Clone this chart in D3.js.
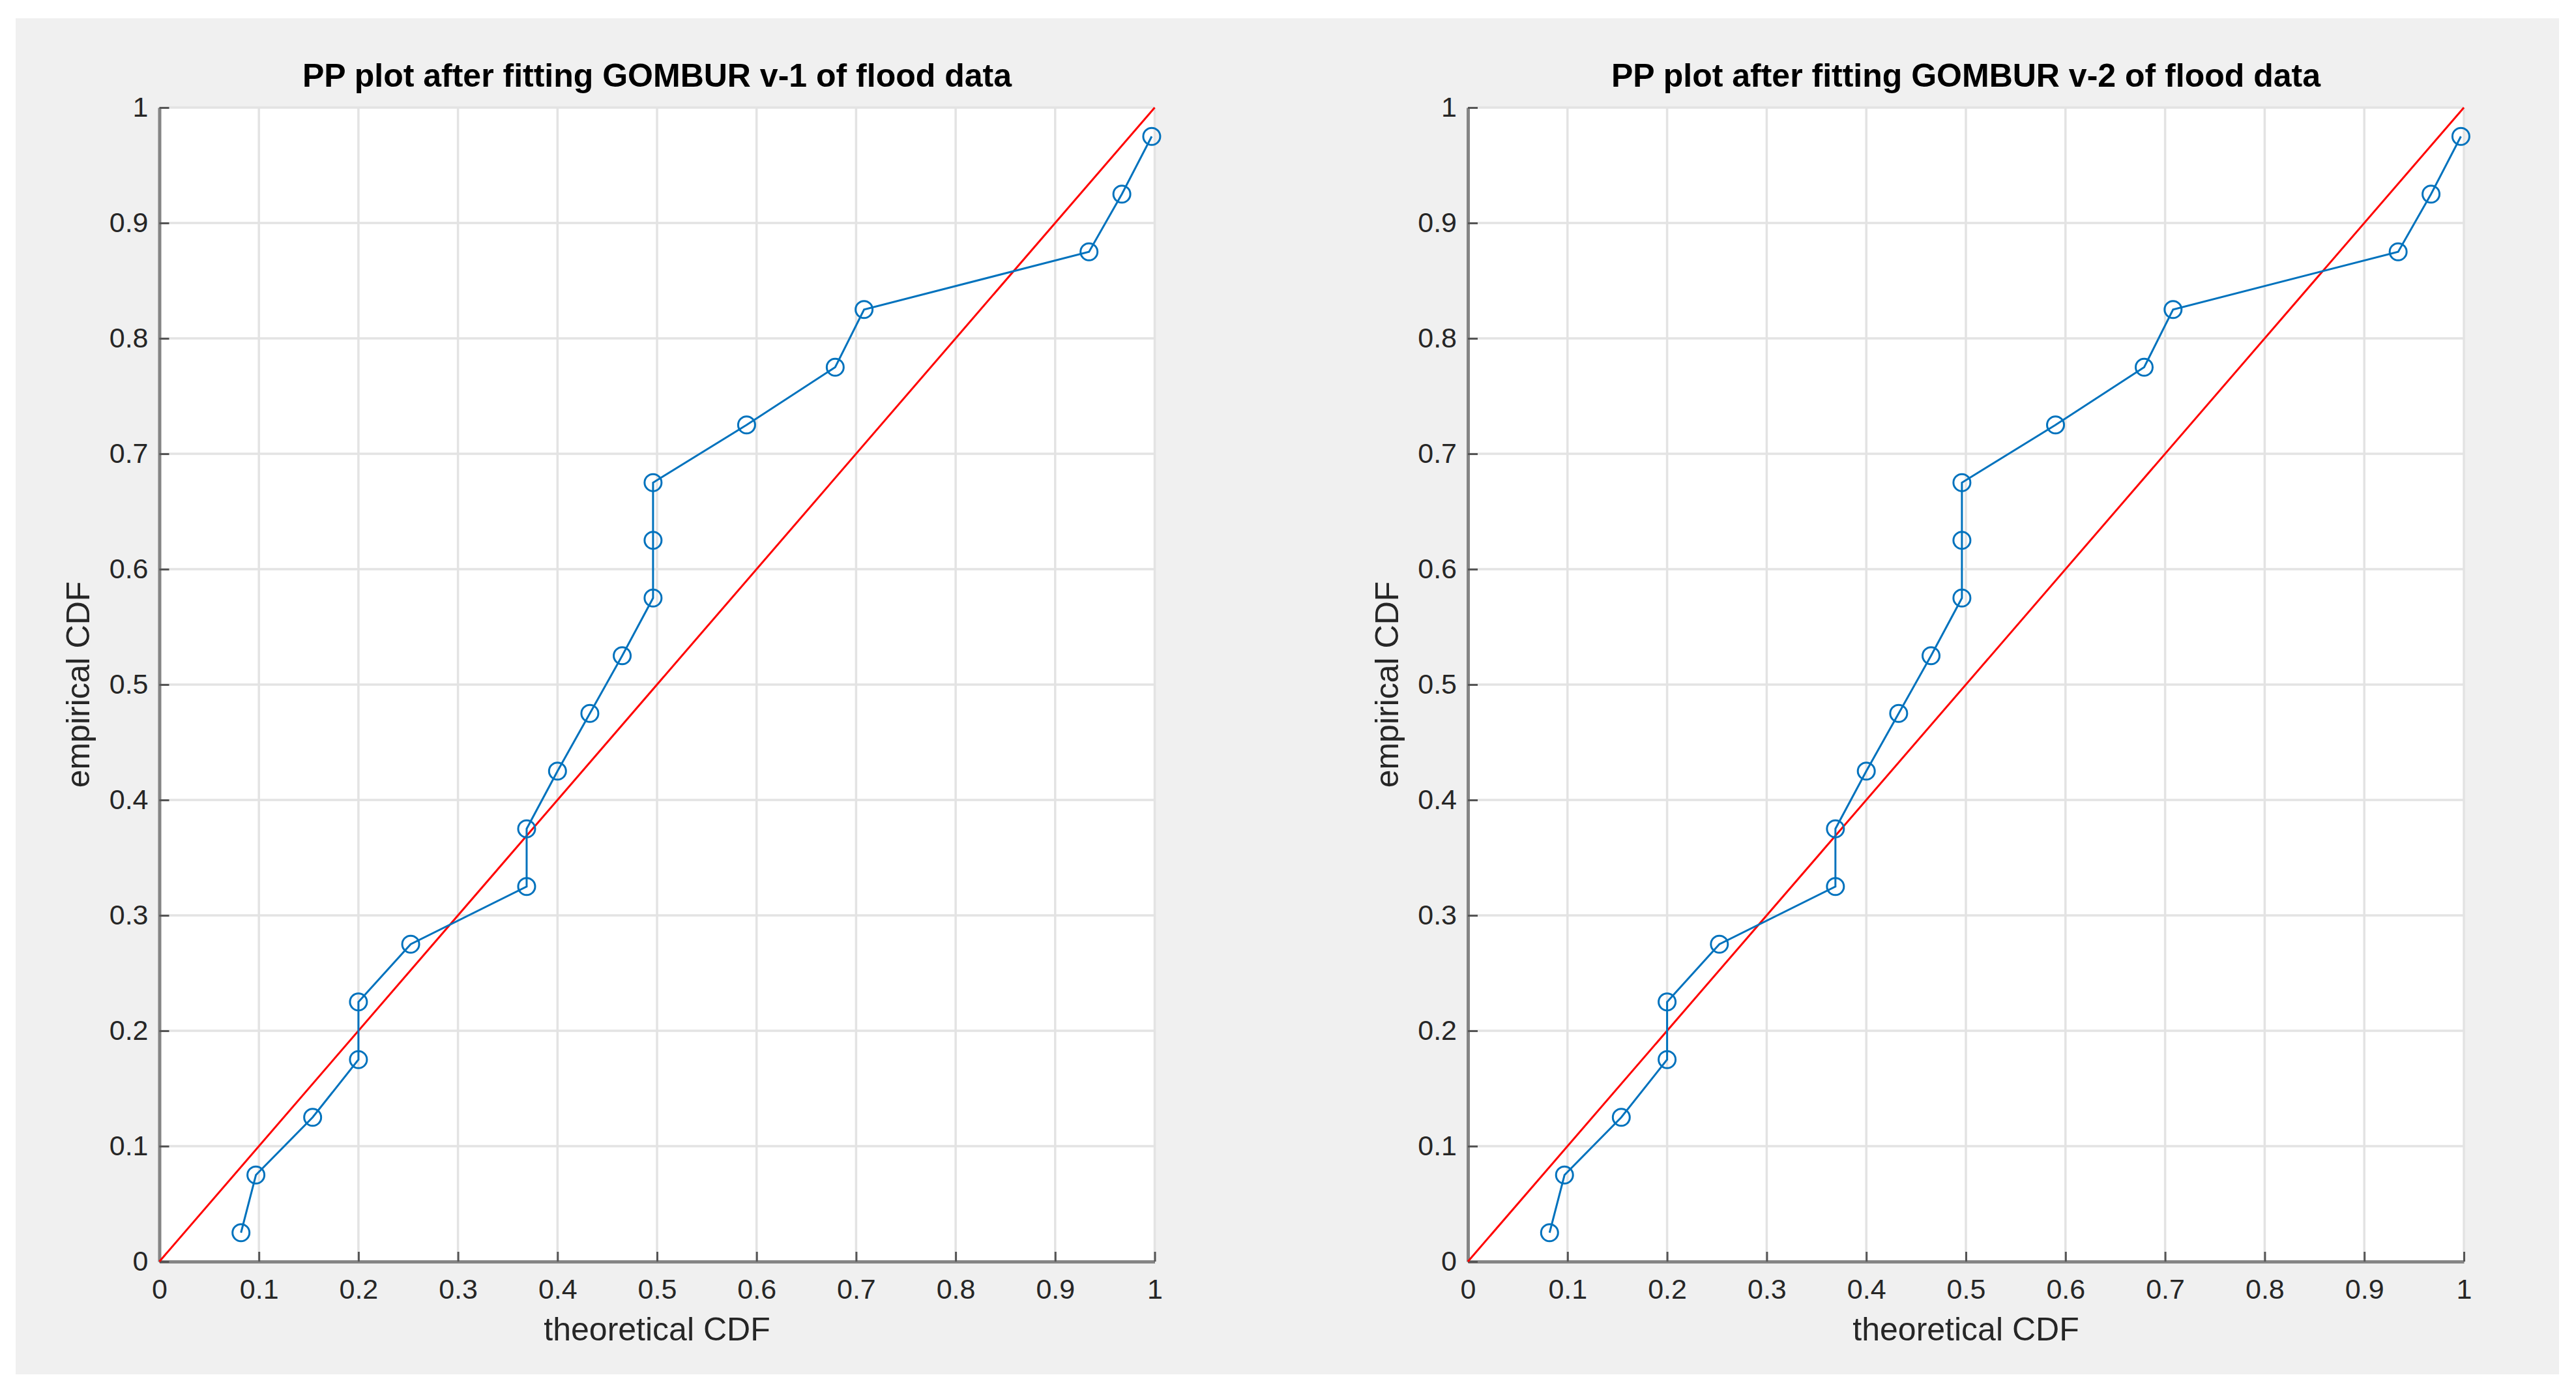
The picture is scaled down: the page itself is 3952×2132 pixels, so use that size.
<!DOCTYPE html>
<html>
    <head>
        <meta charset="utf-8" />
        <title>PP plots after fitting GOMBUR of flood data</title>
        <script src="https://d3js.org/d3.v7.min.js"></script>
        <style>
            body {
                margin: 0;
                background: #ffffff;
                font-family: "Liberation Sans", Arial, sans-serif;
            }
            svg {
                display: block;
            }
        </style>
    </head>
    <body>
        <svg id="chart" width="3952" height="2132"></svg>

        <script>
            // Data
            const panelTitles = [
                "PP plot after fitting GOMBUR v-1 of flood data",
                "PP plot after fitting GOMBUR v-2 of flood data",
            ];
            const theoreticalV1 = [
                0.082, 0.097, 0.154, 0.2, 0.2, 0.2525, 0.369, 0.369, 0.4,
                0.4325, 0.465, 0.496, 0.496, 0.496, 0.59, 0.679, 0.708, 0.934,
                0.967, 0.997,
            ];
            const theoreticalV2 = [
                0.082, 0.097, 0.154, 0.2, 0.2, 0.2525, 0.369, 0.369, 0.4,
                0.4325, 0.465, 0.496, 0.496, 0.496, 0.59, 0.679, 0.708, 0.934,
                0.967, 0.997,
            ];
            const empiricalCDF = [
                0.025, 0.075, 0.125, 0.175, 0.225, 0.275, 0.325, 0.375, 0.425,
                0.475, 0.525, 0.575, 0.625, 0.675, 0.725, 0.775, 0.825, 0.875,
                0.925, 0.975,
            ];
            const refLine = [
                [0, 0],
                [1, 1],
            ];
            const xTicks = [0, 0.1, 0.2, 0.3, 0.4, 0.5, 0.6, 0.7, 0.8, 0.9, 1];
            const yTicks = [0, 0.1, 0.2, 0.3, 0.4, 0.5, 0.6, 0.7, 0.8, 0.9, 1];
            const xLabel = "theoretical CDF";
            const yLabel = "empirical CDF";

            const svg = d3.select("#chart");

            // grey figure background
            svg.append("rect")
                .attr("x", 24)
                .attr("y", 28)
                .attr("width", 3902)
                .attr("height", 2080)
                .attr("fill", "#f0f0f0");

            const panels = [
                { left: 244.5, right: 1771.5, xs: theoreticalV1 },
                { left: 2252, right: 3780, xs: theoreticalV2 },
            ];
            const plotTop = 165;
            const plotBottom = 1935;

            panels.forEach((p, i) => drawPanel(p, panelTitles[i]));

            function drawPanel(p, title) {
                const x = d3.scaleLinear().domain([0, 1]).range([p.left, p.right]);
                const y = d3
                    .scaleLinear()
                    .domain([0, 1])
                    .range([plotBottom, plotTop]);
                const g = svg.append("g");

                // white plot area
                g.append("rect")
                    .attr("x", p.left)
                    .attr("y", plotTop)
                    .attr("width", p.right - p.left)
                    .attr("height", plotBottom - plotTop)
                    .attr("fill", "#ffffff");

                // grid
                g.append("g")
                    .selectAll("line")
                    .data(xTicks)
                    .join("line")
                    .attr("x1", (d) => x(d))
                    .attr("x2", (d) => x(d))
                    .attr("y1", plotTop)
                    .attr("y2", plotBottom)
                    .attr("stroke", "#e3e3e3")
                    .attr("stroke-width", 3.5);
                g.append("g")
                    .selectAll("line")
                    .data(yTicks)
                    .join("line")
                    .attr("x1", p.left)
                    .attr("x2", p.right)
                    .attr("y1", (d) => y(d))
                    .attr("y2", (d) => y(d))
                    .attr("stroke", "#e3e3e3")
                    .attr("stroke-width", 3.5);

                // axes (ticks point inward like MATLAB)
                const xAxis = g
                    .append("g")
                    .attr("transform", `translate(0,${plotBottom})`)
                    .call(
                        d3
                            .axisBottom(x)
                            .tickValues(xTicks)
                            .tickFormat((d) => String(d))
                            .tickSizeInner(-15)
                            .tickSizeOuter(0)
                            .tickPadding(26),
                    );
                const yAxis = g
                    .append("g")
                    .attr("transform", `translate(${p.left},0)`)
                    .call(
                        d3
                            .axisLeft(y)
                            .tickValues(yTicks)
                            .tickFormat((d) => String(d))
                            .tickSizeInner(-15)
                            .tickSizeOuter(0)
                            .tickPadding(17),
                    );
                [xAxis, yAxis].forEach((a) => {
                    a.select(".domain")
                        .attr("stroke", "#858585")
                        .attr("stroke-width", 5);
                    a.selectAll(".tick line")
                        .attr("stroke", "#555555")
                        .attr("stroke-width", 3);
                    a.selectAll(".tick text")
                        .attr("fill", "#262626")
                        .style("font-size", "43px")
                        .style("font-family", "'Liberation Sans', Arial, sans-serif");
                });

                // reference line
                const line = d3
                    .line()
                    .x((d) => x(d[0]))
                    .y((d) => y(d[1]));
                g.append("path")
                    .attr("d", line(refLine))
                    .attr("fill", "none")
                    .attr("stroke", "#ff0000")
                    .attr("stroke-width", 3);

                // empirical vs theoretical
                const pts = p.xs.map((v, k) => [v, empiricalCDF[k]]);
                g.append("path")
                    .attr("d", line(pts))
                    .attr("fill", "none")
                    .attr("stroke", "#0072bd")
                    .attr("stroke-width", 3);
                g.append("g")
                    .selectAll("circle")
                    .data(pts)
                    .join("circle")
                    .attr("cx", (d) => x(d[0]))
                    .attr("cy", (d) => y(d[1]))
                    .attr("r", 13)
                    .attr("fill", "none")
                    .attr("stroke", "#0072bd")
                    .attr("stroke-width", 3);

                // titles and labels
                const cx = (p.left + p.right) / 2;
                g.append("text")
                    .attr("x", cx)
                    .attr("y", 133)
                    .attr("text-anchor", "middle")
                    .style("font-size", "50px")
                    .style("font-weight", "bold")
                    .attr("fill", "#000000")
                    .text(title);
                g.append("text")
                    .attr("x", cx)
                    .attr("y", 2056)
                    .attr("text-anchor", "middle")
                    .style("font-size", "50px")
                    .attr("fill", "#262626")
                    .text(xLabel);
                g.append("text")
                    .attr(
                        "transform",
                        `translate(${p.left - 107.5},${(plotTop + plotBottom) / 2}) rotate(-90)`,
                    )
                    .attr("text-anchor", "middle")
                    .style("font-size", "50px")
                    .attr("fill", "#262626")
                    .text(yLabel);
            }
        </script>
    </body>
</html>
